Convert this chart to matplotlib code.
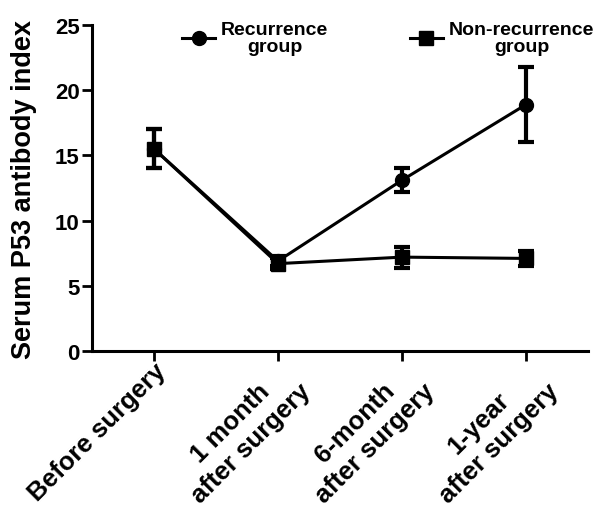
import numpy as np
import matplotlib.pyplot as plt

plt.rcParams['font.family'] = ['Liberation Sans', 'DejaVu Sans']
plt.rcParams['font.weight'] = 'bold'

# time points and group values (mean, error)
labels = ['Before surgery', '1 month\nafter surgery', '6-month\nafter surgery', '1-year\nafter surgery']
rec_mean = [15.5, 6.9, 13.1, 18.9]
rec_err = [1.5, 0.4, 0.9, 2.9]
non_mean = [15.5, 6.7, 7.2, 7.1]
non_err = [1.5, 0.4, 0.8, 0.6]

x = np.arange(len(labels))

fig = plt.figure(figsize=(5.99, 5.10), dpi=100)
ax = fig.add_axes([0.1536, 0.3098, 0.828, 0.6392])

ax.errorbar(x, rec_mean, yerr=rec_err, fmt='none', ecolor='black',
            capsize=6, capthick=3, elinewidth=3)
ax.errorbar(x, non_mean, yerr=non_err, fmt='none', ecolor='black',
            capsize=6, capthick=3, elinewidth=3)
ax.plot(x, rec_mean, color='black', lw=2.2, marker='o', ms=10, label='Recurrence\ngroup')
ax.plot(x, non_mean, color='black', lw=2.2, marker='s', ms=10, label='Non-recurrence\ngroup')

ax.set_xlim(-0.5, 3.5)
ax.set_ylim(0, 25)
ax.set_yticks([0, 5, 10, 15, 20, 25])
ax.set_xticks(x)
ax.set_xticklabels(labels, rotation=45, ha='right', rotation_mode='anchor',
                   fontsize=18.5, fontweight='bold', multialignment='center', linespacing=1.25)
ax.tick_params(axis='y', labelsize=16, width=2, length=7, pad=2)
ax.tick_params(axis='x', width=2, length=7, pad=-2)
for lab in ax.get_yticklabels():
    lab.set_fontweight('bold')
ax.spines['top'].set_visible(False)
ax.spines['right'].set_visible(False)
ax.spines['left'].set_linewidth(2.2)
ax.spines['bottom'].set_linewidth(2.2)
ax.set_ylabel('Serum P53 antibody index', fontsize=19.5, fontweight='bold', labelpad=13)

leg = fig.legend(loc='upper left', bbox_to_anchor=(182 / 599, 488 / 510), ncol=2, frameon=False,
                 handlelength=1.7, columnspacing=4.2, handletextpad=0.3, borderpad=0,
                 borderaxespad=0, labelspacing=0, prop={'weight': 'bold', 'size': 14})
for t in leg.get_texts():
    t.set_multialignment('center')
    t.set_linespacing(1.0)

fig.savefig('out.png', dpi=100)
